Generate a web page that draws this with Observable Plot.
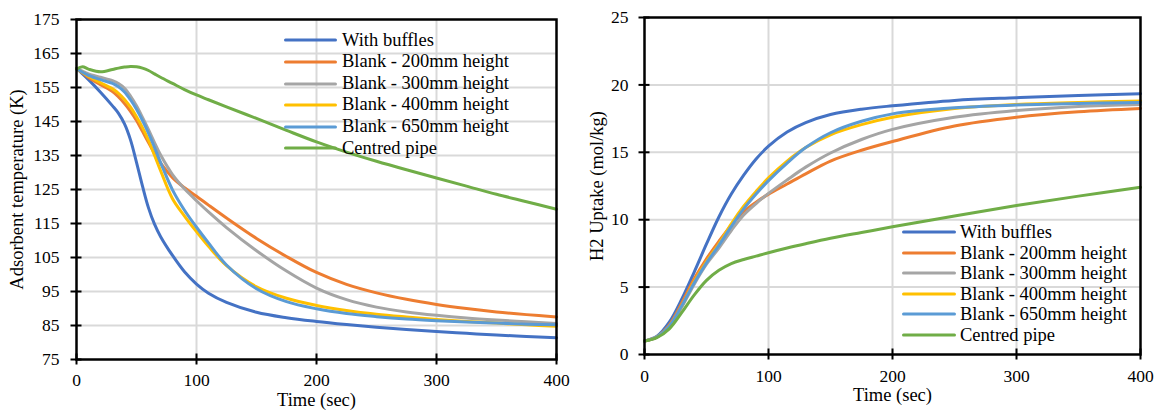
<!DOCTYPE html>
<html>
<head>
<meta charset="utf-8">
<script src="https://cdn.jsdelivr.net/npm/d3@7"></script>
<script src="https://cdn.jsdelivr.net/npm/@observablehq/plot@0.6"></script>
<style>
  body { margin: 0; background: #fff; }
  #wrap { position: relative; width: 1159px; height: 417px; display: flex; font-family: "Liberation Serif", "Times New Roman", serif; }
  .legend { position: absolute; font-size: 18.5px; color: #000; }
  .legend .row { display: flex; align-items: center; white-space: nowrap; }
  .legend svg { display: block; }
</style>
</head>
<body>
<div id="wrap"></div>
<script>
// Series shared by both panels
const seriesNames = ["With buffles", "Blank - 200mm height", "Blank - 300mm height", "Blank - 400mm height", "Blank - 650mm height", "Centred pipe"];
const seriesColors = ["#4472C4", "#ED7D31", "#A5A5A5", "#FFC000", "#5B9BD5", "#70AD47"];

// Axis ticks
const timeTicks = [0, 100, 200, 300, 400];
const tempTicks = [75, 85, 95, 105, 115, 125, 135, 145, 155, 165, 175];
const uptakeTicks = [0, 5, 10, 15, 20, 25];

// Adsorbent temperature (K) vs time (s)
const tempTime    = [0, 5, 10, 20, 30, 35, 40, 45, 50, 55, 60, 65, 70, 80, 90, 100, 110, 125, 150, 175, 200, 225, 250, 275, 300, 325, 350, 375, 400];
const tempBuffles = [160.6, 159.0, 157.3, 153.6, 149.6, 147.4, 144.3, 139.6, 133.0, 126.0, 119.6, 114.8, 111.2, 105.6, 100.8, 97.2, 94.5, 91.8, 88.9, 87.3, 86.2, 85.3, 84.5, 83.8, 83.2, 82.7, 82.2, 81.8, 81.4];
const temp200     = [160.6, 159.3, 157.9, 155.8, 153.8, 152.2, 150.3, 148.0, 145.3, 142.1, 138.8, 135.6, 132.8, 128.5, 125.5, 123.0, 120.4, 116.6, 110.6, 105.3, 100.6, 97.1, 94.6, 92.7, 91.2, 90.0, 89.0, 88.2, 87.5];
const temp300     = [160.6, 159.8, 159.0, 158.0, 157.0, 156.2, 154.8, 152.5, 149.6, 146.2, 142.6, 138.8, 135.2, 129.4, 125.2, 121.7, 118.4, 113.8, 107.0, 101.0, 96.0, 92.6, 90.4, 89.0, 88.0, 87.2, 86.6, 86.1, 85.6];
const temp400     = [160.6, 159.4, 158.3, 156.4, 154.6, 153.3, 151.5, 149.2, 146.4, 143.2, 139.5, 135.1, 130.6, 122.3, 117.2, 112.6, 108.3, 102.6, 96.4, 93.0, 90.9, 89.4, 88.3, 87.5, 86.8, 86.2, 85.7, 85.2, 84.8];
const temp650     = [160.6, 159.5, 158.6, 157.3, 156.2, 155.2, 153.7, 151.4, 148.6, 145.3, 141.6, 137.4, 133.0, 124.9, 118.9, 113.9, 109.3, 102.8, 95.8, 92.0, 89.9, 88.5, 87.6, 86.9, 86.4, 86.0, 85.7, 85.4, 85.2];
const tempPipe    = [160.4, 161.1, 160.4, 159.6, 160.3, 160.7, 161.0, 161.2, 161.1, 160.7, 160.0, 159.0, 158.0, 156.2, 154.4, 152.8, 151.4, 149.3, 145.9, 142.4, 139.0, 136.0, 133.3, 130.8, 128.4, 126.0, 123.6, 121.4, 119.2];

// H2 uptake (mol/kg) vs time (s)
const uptakeTime    = [0, 10, 20, 30, 40, 50, 60, 70, 80, 90, 100, 115, 130, 150, 175, 200, 250, 300, 350, 400];
const uptakeBuffles = [1.0, 1.35, 2.4, 4.1, 6.1, 8.2, 10.2, 11.9, 13.3, 14.5, 15.45, 16.5, 17.2, 17.8, 18.2, 18.45, 18.85, 19.05, 19.22, 19.35];
const uptake200     = [1.0, 1.3, 2.2, 3.8, 5.6, 7.1, 8.4, 9.6, 10.6, 11.3, 11.9, 12.65, 13.4, 14.35, 15.15, 15.8, 16.95, 17.6, 18.0, 18.25];
const uptake300     = [1.0, 1.28, 2.0, 3.5, 5.2, 6.7, 7.9, 9.2, 10.35, 11.2, 11.95, 12.95, 13.9, 14.95, 15.95, 16.7, 17.6, 18.1, 18.4, 18.55];
const uptake400     = [1.0, 1.3, 2.1, 3.6, 5.4, 6.9, 8.2, 9.7, 11.0, 12.1, 13.1, 14.35, 15.35, 16.3, 17.05, 17.6, 18.25, 18.55, 18.7, 18.8];
const uptake650     = [1.0, 1.3, 2.1, 3.6, 5.3, 6.8, 8.1, 9.5, 10.8, 11.9, 12.9, 14.2, 15.35, 16.45, 17.3, 17.85, 18.3, 18.5, 18.62, 18.7];
const uptakePipe    = [1.0, 1.25, 1.9, 3.1, 4.4, 5.5, 6.25, 6.75, 7.05, 7.3, 7.55, 7.9, 8.22, 8.62, 9.05, 9.47, 10.28, 11.05, 11.75, 12.4];

const FONT = '"Liberation Serif", "Times New Roman", serif';

function toRows(time, seriesValues) {
  return seriesValues.flatMap((values, i) =>
    values.map((v, j) => ({t: time[j], v, name: seriesNames[i]})));
}

function panel(o) {
  const rows = toRows(o.time, o.values);
  return Plot.plot({
    width: o.width,
    height: 417,
    marginLeft: o.m[0], marginRight: o.m[1], marginTop: o.m[2], marginBottom: o.m[3],
    style: `font-family: ${FONT}; font-size: 17.5px; color: #000; background: #fff; overflow: visible;`,
    x: {domain: [0, 400]},
    y: {domain: o.yDomain},
    color: {domain: seriesNames, range: seriesColors},
    marks: [
      Plot.gridX(timeTicks.slice(1, -1), {stroke: "#d9d9d9", strokeOpacity: 1, strokeWidth: 2}),
      Plot.gridY(o.yTicks.slice(1, -1), {stroke: "#d9d9d9", strokeOpacity: 1, strokeWidth: 2}),
      Plot.line(rows, {x: "t", y: "v", z: "name", stroke: "name", strokeWidth: 3, curve: "catmull-rom"}),
      Plot.frame({stroke: "#000", strokeWidth: 2.5}),
      // ticks that cross the axis line
      Plot.axisX(timeTicks, {tickSize: 11, dy: -5.5, text: null, label: null, stroke: "#000", strokeWidth: 2}),
      Plot.axisY(o.yTicks, {tickSize: 11, dx: 5.5, text: null, label: null, stroke: "#000", strokeWidth: 2}),
      // tick labels
      Plot.axisX(timeTicks, {tickSize: 0, tickPadding: o.xPad, label: null, fill: "#000", fontSize: 17.5, fontFamily: FONT}),
      Plot.axisY(o.yTicks, {tickSize: 0, tickPadding: o.yPad, label: null, fill: "#000", fontSize: 17.5, fontFamily: FONT}),
      // axis titles
      Plot.text(["Time (sec)"], {frameAnchor: "bottom", dy: o.xTitleDy, text: d => d, fontSize: 18.5, fontFamily: FONT, fill: "#000"}),
      Plot.text([o.yLabel], {frameAnchor: "left", dx: o.yTitleDx, rotate: -90, textAnchor: "middle", lineAnchor: "middle", text: d => d, fontSize: 18.5, fontFamily: FONT, fill: "#000"})
    ]
  });
}

function legend(left, top, rowH, swatchW, gap) {
  const div = document.createElement("div");
  div.className = "legend";
  div.style.left = left + "px";
  div.style.top = top + "px";
  seriesNames.forEach((name, i) => {
    const row = document.createElement("div");
    row.className = "row";
    row.style.height = rowH + "px";
    row.style.lineHeight = rowH + "px";
    row.innerHTML =
      `<svg width="${swatchW}" height="6"><line x1="1.5" y1="3" x2="${swatchW - 1.5}" y2="3" stroke="${seriesColors[i]}" stroke-width="3" stroke-linecap="round"/></svg>` +
      `<span style="margin-left:${gap}px">${name}</span>`;
    div.appendChild(row);
  });
  return div;
}

const wrap = document.getElementById("wrap");

wrap.appendChild(panel({
  width: 580, m: [76, 24, 19, 58],
  yDomain: [75, 175], yTicks: tempTicks,
  time: tempTime, values: [tempBuffles, temp200, temp300, temp400, temp650, tempPipe],
  yLabel: "Adsorbent temperature (K)", yTitleDx: -59.5, xTitleDy: 46, xPad: 14.5, yPad: 17
}));

wrap.appendChild(panel({
  width: 579, m: [64, 19, 17, 63],
  yDomain: [0, 25], yTicks: uptakeTicks,
  time: uptakeTime, values: [uptakeBuffles, uptake200, uptake300, uptake400, uptake650, uptakePipe],
  yLabel: "H2 Uptake (mol/kg)", yTitleDx: -47.5, xTitleDy: 46.5, xPad: 15, yPad: 16
}));

wrap.appendChild(legend(284, 29.7, 21.6, 53, 5));
wrap.appendChild(legend(902, 222, 20.5, 54, 4));
</script>
</body>
</html>
